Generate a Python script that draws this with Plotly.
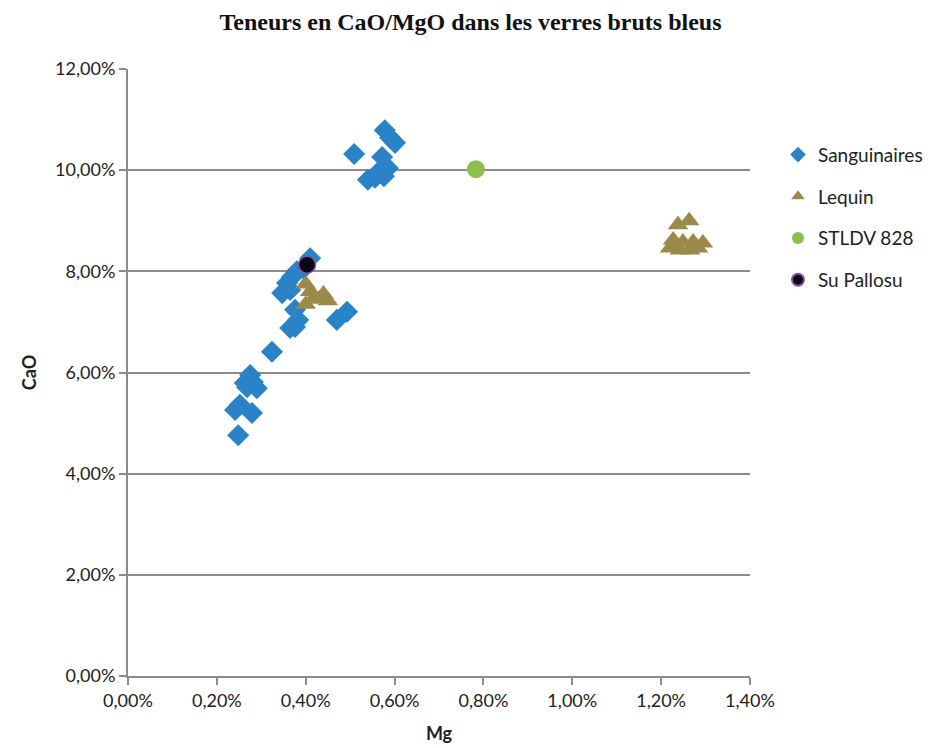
import plotly.graph_objects as go

# Mg (x) et CaO (y), en % (divisés par 100 au tracé)
sang_mg = [0.509, 0.578, 0.590, 0.601, 0.572, 0.585, 0.563, 0.556, 0.540, 0.576,
           0.410, 0.369, 0.358, 0.347, 0.365, 0.376, 0.376, 0.365, 0.383, 0.493,
           0.470, 0.324, 0.275, 0.281, 0.263, 0.290, 0.268, 0.252, 0.241, 0.279,
           0.248, 0.395, 0.380]
sang_cao = [10.32, 10.79, 10.64, 10.54, 10.26, 10.04, 9.96, 9.85, 9.81, 9.88,
            8.26, 7.89, 7.77, 7.57, 7.63, 7.24, 6.90, 6.88, 7.04, 7.20,
            7.04, 6.41, 5.95, 5.81, 5.79, 5.69, 5.71, 5.36, 5.26, 5.20,
            4.76, 8.05, 8.00]

lequin_mg = [0.400, 0.410, 0.420, 0.430, 0.450, 0.400, 0.440,
             1.238, 1.263, 1.227, 1.249, 1.272, 1.294, 1.220, 1.242, 1.265, 1.283]
lequin_cao = [7.75, 7.60, 7.50, 7.45, 7.42, 7.35, 7.55,
              8.92, 9.00, 8.62, 8.58, 8.58, 8.56, 8.46, 8.42, 8.42, 8.46]

stldv_mg = [0.783]
stldv_cao = [10.02]

pallosu_mg = [0.403]
pallosu_cao = [8.13]


def frac(vals):
    return [v / 100 for v in vals]


fig = go.Figure()
fig.add_trace(go.Scatter(
    x=frac(sang_mg), y=frac(sang_cao), mode="markers", name="Sanguinaires",
    legendgroup="a",
    marker=dict(symbol="diamond", size=17, color="#2A83C6")))
fig.add_trace(go.Scatter(
    x=frac(lequin_mg), y=frac(lequin_cao), mode="markers", name="Lequin",
    legendgroup="b",
    marker=dict(symbol="triangle-up", size=18, color="#9C8A4A")))
fig.add_trace(go.Scatter(
    x=frac(stldv_mg), y=frac(stldv_cao), mode="markers", name="STLDV 828",
    legendgroup="c",
    marker=dict(symbol="circle", size=18, color="#8DC04B")))
fig.add_trace(go.Scatter(
    x=frac(pallosu_mg), y=frac(pallosu_cao), mode="markers", name="Su Pallosu",
    legendgroup="d",
    marker=dict(symbol="circle", size=17, color="#0A0614",
                line=dict(color="#8A4FA8", width=1.5))))

axis_font = dict(family="Lato, 'Open Sans', sans-serif", size=18, color="#222222")

# la page ajoute une marge de 8 px : figure 925x740 pour une fenêtre 933x748
fig.update_layout(
    width=925, height=740,
    separators=", ",
    paper_bgcolor="white", plot_bgcolor="white",
    margin=dict(l=120, r=183, t=61, b=72, autoexpand=False),
    title=dict(text="<b>Teneurs en CaO/MgO dans les verres bruts bleus</b>",
               x=0.5, xanchor="center", y=0.981, yanchor="middle",
               font=dict(family="Liberation Serif, serif", size=24, color="#111111")),
    # légende placée à droite de la zone de tracé
    legend=dict(x=1.045, y=0.89, xanchor="left", yanchor="top",
                font=dict(family="Lato, 'Open Sans', sans-serif",
                          size=19, color="#222222"),
                tracegroupgap=14, itemsizing="constant", itemwidth=30),
    xaxis=dict(range=[0, 0.014], tickvals=[i * 0.002 for i in range(8)],
               tickformat=".2%", showgrid=False, zeroline=False, automargin=False,
               showline=True, linecolor="#8c8c8c", linewidth=2,
               ticks="outside", ticklen=7, tickcolor="#8c8c8c", tickwidth=1.5,
               tickfont=axis_font,
               title=dict(text="<b>Mg</b>", standoff=18,
                          font=dict(family="Lato, sans-serif", size=18, color="#222222"))),
    yaxis=dict(range=[0, 0.12], tickvals=[i * 0.02 for i in range(7)],
               tickformat=".2%", showgrid=True, gridcolor="#8c8c8c", gridwidth=2,
               zeroline=False, showline=True, linecolor="#8c8c8c", linewidth=2,
               ticks="outside", ticklen=7, tickcolor="#8c8c8c", tickwidth=1.5,
               tickfont=axis_font, automargin=False,
               title=dict(text="<b>CaO</b>", standoff=14,
                          font=dict(family="Lato, sans-serif", size=18, color="#222222"))),
)

fig.write_html("out.html")
